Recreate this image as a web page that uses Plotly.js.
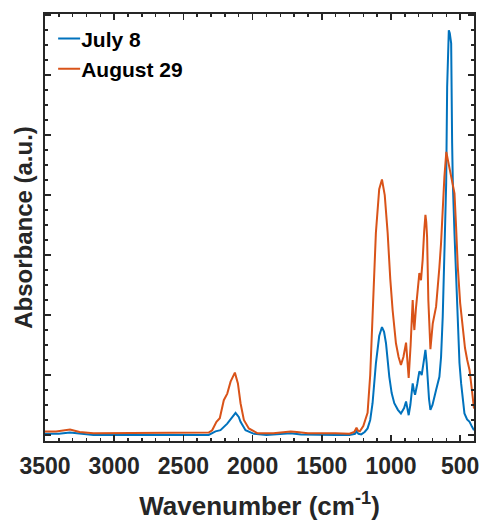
<!DOCTYPE html>
<html>
<head>
<meta charset="utf-8">
<script src="https://cdn.plot.ly/plotly-3.0.1.min.js"></script>
<style>html,body{margin:0;padding:0;background:#fff;}#chart{width:479px;height:521px;}</style>
</head>
<body>
<div id="chart"></div>
<script>
// July 8 spectrum (wavenumber, absorbance a.u.)
const julyWave = [3500,3400,3320,3250,3150,3000,2800,2600,2400,2317,2268,2232,2183,2150,2123,2100,2087,2051,1990,1900,1800,1725,1650,1500,1400,1300,1260,1249,1235,1215,1190,1169,1150,1133,1109,1085,1065,1050,1036,1012,995,976,950,928,905,891,880,872,860,843,835,826,810,795,785,778,765,751,742,734,725,715,700,674,650,638,626,612,601,594,588,582,575,565,558,553,541,530,517,505,493,480,469,450,432,415,400];
const julyAbs = [0.02,0.02,0.04,0.02,0.0,0.0,0.0,0.0,0.0,0.0,0.06,0.08,0.19,0.28,0.37,0.3,0.22,0.08,0.02,0.0,0.01,0.03,0.01,0.0,0.0,0.0,0.02,0.06,0.02,0.01,0.05,0.11,0.25,0.53,1.19,1.65,1.8,1.72,1.53,0.97,0.7,0.53,0.42,0.36,0.45,0.56,0.42,0.33,0.5,0.86,0.75,0.67,0.85,1.06,1.04,1.0,1.2,1.42,1.2,0.86,0.6,0.42,0.5,0.75,0.97,1.3,1.97,3.2,4.2,5.8,6.5,6.75,6.7,6.53,4.87,4.2,3.36,2.6,1.8,1.2,0.86,0.55,0.36,0.26,0.22,0.14,0.08];
// August 29 spectrum
const augWave = [3500,3420,3319,3250,3150,3000,2900,2800,2600,2400,2317,2292,2261,2237,2208,2183,2159,2128,2106,2087,2063,2027,1966,1850,1760,1725,1680,1600,1400,1300,1265,1249,1238,1225,1200,1169,1150,1133,1109,1085,1065,1045,1024,1005,988,964,945,928,910,891,880,872,858,843,836,831,820,812,795,783,771,760,751,745,739,730,715,698,674,650,638,614,600,590,565,541,530,517,500,481,465,449,432,415,400];
const augAbs = [0.06,0.06,0.09,0.05,0.03,0.03,0.04,0.04,0.03,0.03,0.04,0.08,0.22,0.28,0.58,0.69,0.89,1.04,0.86,0.53,0.25,0.11,0.03,0.03,0.05,0.06,0.05,0.03,0.03,0.02,0.05,0.12,0.07,0.06,0.15,0.37,1.0,1.97,3.37,4.1,4.26,4.0,3.37,2.6,2.08,1.53,1.3,1.17,1.3,1.54,1.2,0.95,1.5,2.25,1.9,1.75,2.1,2.3,2.7,2.58,2.92,3.4,3.67,3.55,3.3,2.25,1.43,1.86,2.14,2.8,3.2,4.3,4.72,4.6,4.3,4.03,3.5,2.8,2.2,1.75,1.45,1.25,1.08,0.75,0.44];
const seriesNames = ['July 8', 'August 29'];
const xTickVals = [3500,3000,2500,2000,1500,1000,500];

const axisColor = '#262626';
const fam = 'Liberation Sans, Arial, sans-serif';

const traces = [
  {x: julyWave, y: julyAbs, name: seriesNames[0], type: 'scatter', mode: 'lines',
   line: {color: '#0072BD', width: 2}},
  {x: augWave, y: augAbs, name: seriesNames[1], type: 'scatter', mode: 'lines',
   line: {color: '#D95319', width: 2}}
];

const layout = {
  width: 479, height: 521,
  margin: {l: 45, r: 5, t: 14, b: 80},
  paper_bgcolor: '#fff', plot_bgcolor: '#fff',
  font: {family: fam, color: axisColor},
  showlegend: true,
  legend: {x: -0.009, y: 0.99, xanchor: 'left', yanchor: 'top',
    bgcolor: 'rgba(0,0,0,0)', font: {family: fam, size: 21, weight: 'bold', color: '#000'},
    tracegroupgap: 0},
  xaxis: {
    range: [3500, 400], tickvals: xTickVals, ticktext: xTickVals.map(String),
    ticks: 'inside', ticklen: 6, tickwidth: 1.5, tickcolor: axisColor,
    minor: {ticks: 'inside', dtick: 100, tick0: 0, ticklen: 3, tickwidth: 1.5, tickcolor: axisColor},
    showline: true, linewidth: 2, linecolor: axisColor, mirror: 'ticks',
    showgrid: false, zeroline: false,
    ticklabeloverflow: 'allow', ticklabelstandoff: 3,
    tickfont: {family: fam, size: 23, weight: 'bold', color: axisColor},
    title: {text: 'Wavenumber (cm<sup>-1</sup>)', standoff: 19,
      font: {family: fam, size: 26, weight: 'bold', color: axisColor}}
  },
  yaxis: {
    range: [-0.1, 7.02], dtick: 1, tick0: 0, showticklabels: false,
    ticks: 'inside', ticklen: 6, tickwidth: 1.5, tickcolor: axisColor,
    minor: {ticks: 'inside', dtick: 0.25, tick0: 0, ticklen: 3, tickwidth: 1.5, tickcolor: axisColor},
    showline: true, linewidth: 2, linecolor: axisColor, mirror: 'ticks',
    showgrid: false, zeroline: false,
    title: {text: 'Absorbance (a.u.)', standoff: 4,
      font: {family: fam, size: 24, weight: 'bold', color: axisColor}}
  }
};

function shortenLegendLines() {
  document.querySelectorAll('.legendlines path').forEach(function (p) {
    p.setAttribute('d', 'M17,0h22');
  });
}

Plotly.newPlot('chart', traces, layout, {displayModeBar: false, staticPlot: true}).then(function (gd) {
  shortenLegendLines();
  gd.on('plotly_afterplot', shortenLegendLines);
});
</script>
</body>
</html>
